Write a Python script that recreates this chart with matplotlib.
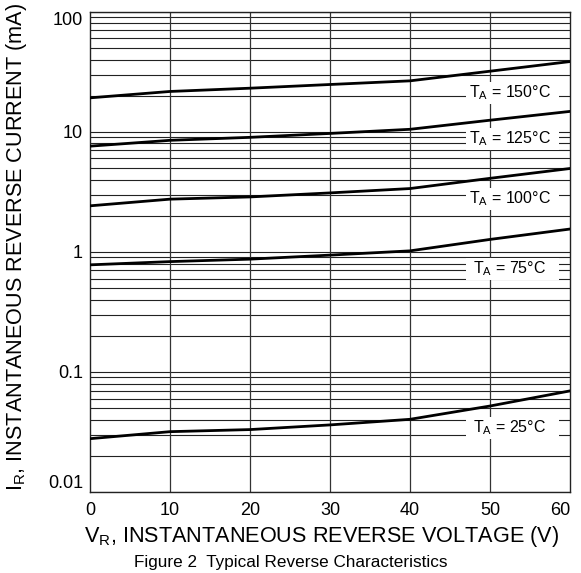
import numpy as np
import matplotlib
matplotlib.use('Agg')
import matplotlib.pyplot as plt
from matplotlib.ticker import LogLocator, NullFormatter, FixedLocator
from matplotlib.patches import Rectangle
from matplotlib import font_manager

plt.rcParams['font.family'] = ['Liberation Sans', 'DejaVu Sans']

# podaci ocitani sa slike
v_r = [0, 10, 20, 30, 40, 50, 60]
i_150 = [19.2, 21.7, 23.1, 24.8, 26.6, 32.0, 38.5]
i_125 = [7.6, 8.5, 9.0, 9.7, 10.5, 12.5, 14.8]
i_100 = [2.42, 2.75, 2.87, 3.1, 3.37, 4.1, 4.95]
i_75 = [0.78, 0.83, 0.87, 0.94, 1.02, 1.27, 1.55]
i_25 = [0.0278, 0.0318, 0.0331, 0.0362, 0.0403, 0.052, 0.0695]
krivulje = [i_150, i_125, i_100, i_75, i_25]

oznake = ['150', '125', '100', '75', '25']
oznaka_y = [21.1, 8.74, 2.77, 0.72, 0.0341]
oznaka_x = 52.5

x_ticks = [0, 10, 20, 30, 40, 50, 60]
y_ticks = [0.01, 0.1, 1, 10, 100]
y_tick_labels = ['0.01', '0.1', '1', '10', '100']

# uzi font za naslov ako postoji
imena = {f.name for f in font_manager.fontManager.ttflist}
ima_narrow = 'Liberation Sans Narrow' in imena
naslov_font = ['Liberation Sans Narrow'] if ima_narrow else ['Liberation Sans']
naslov_size = 13.8 if ima_narrow else 12.3

fig = plt.figure(figsize=(5.81, 5.73), dpi=100)
ax = fig.add_axes([0.155, 0.1414, 0.826, 0.838])
ax.set_yscale('log')
ax.set_xlim(0, 60)
ax.set_ylim(0.01, 100)

# horizontalna mreza
ax.yaxis.set_major_locator(FixedLocator(y_ticks))
ax.yaxis.set_minor_locator(LogLocator(base=10, subs=np.arange(2, 10)))
ax.yaxis.set_minor_formatter(NullFormatter())
ax.set_yticklabels(y_tick_labels)
ax.set_axisbelow(True)
ax.grid(axis='y', which='both', color='#222222', linewidth=0.8)

# bijele podloge za oznake (prekrivaju horizontalne linije)
for yy in oznaka_y:
    f = 10 ** (11 / 120)
    ax.add_patch(Rectangle((47.0, yy / f), 11.6, yy * f - yy / f,
                           facecolor='white', edgecolor='none', zorder=1))

# vertikalna mreza
for xx in x_ticks[1:-1]:
    ax.axvline(xx, color='#333333', linewidth=0.9, zorder=1.5)

for k in krivulje:
    ax.plot(v_r, k, color='black', linewidth=2, zorder=3)

for t, yy in zip(oznake, oznaka_y):
    ax.text(oznaka_x, yy, r'T$_\mathregular{A}$ = ' + t + '°C', fontsize=11.5,
            ha='center', va='center', zorder=4,
            bbox=dict(facecolor='white', edgecolor='none', pad=1))

ax.set_xticks(x_ticks)
ax.tick_params(axis='both', which='both', length=0, labelsize=13)
ax.tick_params(axis='y', pad=5)
ax.tick_params(axis='x', pad=7)
ylabs = ax.get_yticklabels()
ylabs[0].set_verticalalignment('bottom')
ylabs[-1].set_verticalalignment('top')
xlabs = ax.get_xticklabels()
xlabs[-1].set_horizontalalignment('right')

for s in ax.spines.values():
    s.set_linewidth(1.0)
    s.set_color('#222222')

ax.set_xlabel(r'V$_\mathregular{R}$, INSTANTANEOUS REVERSE VOLTAGE (V)', fontsize=15.6)
ax.set_ylabel(r'I$_\mathregular{R}$, INSTANTANEOUS REVERSE CURRENT (mA)', fontsize=15.6)
ax.xaxis.set_label_coords(0.483, -0.066)
ax.yaxis.set_label_coords(-0.128, 0.51)
fig.text(0.5, 1 - 562 / 573, 'Figure 2  Typical Reverse Characteristics',
         fontsize=naslov_size, family=naslov_font, ha='center', va='center')

fig.savefig('out.png', dpi=100)
